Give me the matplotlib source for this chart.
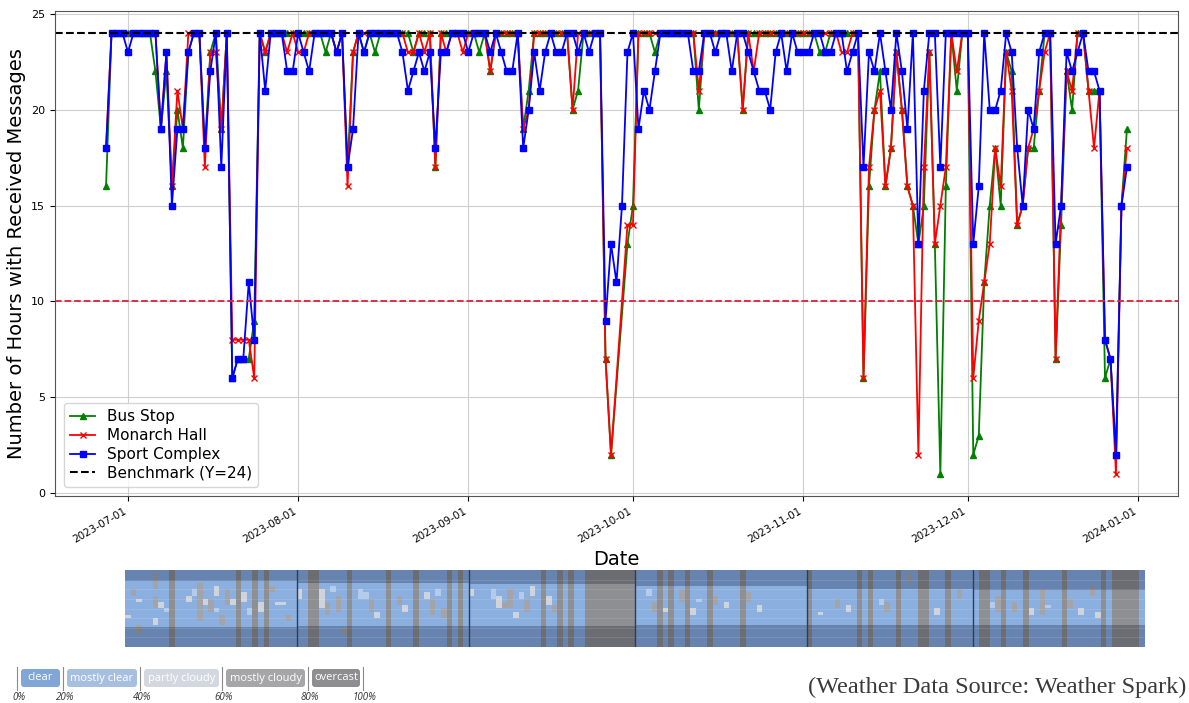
"""
Daily hours with received messages at three campus sites, Jun-Dec 2023,
with a cloud-cover strip for the same period underneath.
"""

import numpy as np
import pandas as pd
import matplotlib.pyplot as plt
import matplotlib.dates as mdates
from matplotlib.colors import to_rgb
from matplotlib.patches import FancyBboxPatch

OUT_FILE = "out.png"

# Hours per day with at least one received message, from 2023-06-27 to 2023-12-30
START_DATE = "2023-06-27"
nan = float("nan")

sport_complex = [
    18, 24, 24, 24,
    23, 24, 24, 24, 24, 24, 19, 23, 15, 19,
    19, 23, 24, 24, 18, 22, 24, 17, 24, 6,
    7, 7, 11, 8, 24, 21, 24, 24, 24, 22,
    22, 24, 23, 22, 24, 24, 24, 24, 23, 24,
    17, 19, 24, 23, 24, 24, 24, 24, 24, 24,
    23, 21, 22, 23, 22, 23, 18, 23, 23, 24,
    24, 24, 23, 24, 24, 24, 23, 24, 23, 22,
    22, 24, 18, 20, 23, 21, 23, 24, 23, 23,
    24, 24, 23, 24, 23, 24, 24, 9, 13, 11,
    15, 23, 24, 19, 21, 20, 22, 24, 24, 24,
    24, 24, 24, 22, 22, 24, 24, 23, 24, 24,
    22, 24, 24, 23, 22, 21, 21, 20, 23, 24,
    22, 24, 23, 23, 23, 24, 24, 23, 23, 24,
    24, 22, 23, 24, 17, 23, 22, 24, 22, 20,
    24, 22, 19, 24, 13, 21, 24, 24, 17, 24,
    24, 24, 24, 24, 13, 16, 24, 20, 20, 21,
    24, 23, 18, 15, 20, 19, 23, 24, 24, 13,
    15, 23, 22, 23, 24, 22, 22, 21, 8, 7,
    2, 15, 17,
]

monarch_hall = [
    18, 24, 24, 24,
    24, 24, 24, 24, 24, 24, 19, 23, 16, 21,
    19, 24, 24, 24, 17, 23, 23, 19, 24, 8,
    8, 8, 8, 6, 24, 23, 24, 24, 24, 23,
    24, 23, 23, 24, 24, 24, 24, 24, 23, 24,
    16, 23, 24, 24, 24, 24, 24, 24, 24, 24,
    24, 23, 23, 24, 23, 24, 17, 24, 23, 24,
    24, 23, 24, 24, 24, 24, 22, 24, 24, 24,
    24, 24, 19, 20, 24, 24, 24, 24, 24, 24,
    24, 20, 24, 24, 24, 24, 24, 7, 2, nan,
    nan, 14, 14, 24, 24, 24, 24, 24, 24, 24,
    24, 24, 24, 24, 21, 24, 24, 24, 24, 24,
    24, 24, 20, 24, 22, 24, 24, 24, 24, 24,
    24, 24, 24, 24, 24, 24, 24, 24, 24, 24,
    23, 23, 24, 24, 6, 17, 20, 21, 16, 18,
    23, 20, 16, 15, 2, 17, 23, 13, 15, 17,
    24, 22, 24, 24, 6, 9, 11, 13, 18, 16,
    23, 21, 14, 15, 18, 19, 21, 23, 24, 7,
    15, 22, 21, 24, 24, 21, 18, 21, 8, 7,
    1, 15, 18,
]

bus_stop = [
    16, 24, 24, 24,
    24, 24, 24, 24, 24, 22, 19, 22, 16, 20,
    18, 23, 24, 24, 18, 23, 24, 19, 24, 6,
    7, 7, 7, 9, 24, 23, 24, 24, 24, 24,
    24, 24, 24, 24, 24, 24, 23, 24, 23, 24,
    17, 23, 24, 23, 24, 23, 24, 24, 24, 24,
    24, 24, 23, 24, 24, 24, 17, 24, 24, 24,
    24, 24, 24, 24, 23, 24, 22, 24, 24, 24,
    24, 24, 19, 21, 24, 24, 24, 24, 24, 24,
    24, 20, 21, 24, 24, 24, 24, 7, 2, nan,
    nan, 13, 15, 24, 24, 24, 23, 24, 24, 24,
    24, 24, 24, 24, 20, 24, 24, 24, 24, 24,
    24, 24, 20, 24, 24, 24, 24, 24, 24, 24,
    24, 24, 24, 24, 24, 24, 23, 23, 24, 24,
    24, 24, 24, 24, 6, 16, 20, 22, 16, 18,
    23, 20, 16, 15, 13, 15, 23, 13, 1, 16,
    24, 21, 24, 24, 2, 3, 11, 15, 18, 15,
    23, 22, 14, 15, 18, 18, 21, 24, 24, 7,
    14, 22, 20, 24, 24, 21, 21, 21, 6, 7,
    2, 15, 19,
]

BENCHMARK = 24
THRESHOLD = 10

# Cloud cover strip: one column per day from 2023-07-01, rows are hours of the day
STRIP_START = "2023-07-01"
STRIP_DAYS = 184
overcast_days = [8, 20, 23, 25, 33, 34, 40, 47, 52, 58, 60, 75, 78, 80,
                 83, 84, 85, 86, 87, 88, 89, 90, 91, 96, 98, 101, 105, 111,
                 123, 132, 134, 139, 143, 144, 148, 154, 155, 158, 162, 169,
                 176, 178, 179, 180, 181, 182]
# scattered cloud: (day, first hour, hours, level 1=mostly clear 2=partly 3=mostly cloudy)
cloud_cells = [
    (0, 14, 1, 2), (1, 6, 2, 3), (2, 17, 3, 3), (2, 9, 1, 2),
    (5, 1, 5, 3), (5, 8, 4, 3), (5, 15, 2, 2), (6, 10, 2, 2), (7, 12, 1, 1),
    (11, 8, 2, 2), (12, 6, 2, 1), (13, 4, 12, 3), (14, 9, 2, 2),
    (15, 9, 4, 3), (16, 12, 1, 1), (16, 5, 3, 2), (17, 14, 3, 3),
    (18, 6, 5, 3), (19, 9, 2, 2), (21, 7, 3, 2), (22, 12, 2, 1),
    (24, 10, 3, 2), (26, 5, 2, 3), (27, 10, 1, 2), (28, 10, 1, 2), (29, 14, 2, 3),
    (31, 6, 3, 2), (35, 6, 6, 2), (36, 10, 4, 3), (37, 5, 2, 1), (38, 8, 5, 3),
    (39, 18, 2, 3), (42, 6, 3, 1), (43, 7, 2, 1), (44, 9, 4, 3), (45, 13, 2, 2),
    (49, 8, 3, 3), (50, 11, 2, 2), (54, 7, 2, 2), (55, 9, 5, 3), (56, 6, 2, 1),
    (57, 12, 3, 3),
    (62, 6, 2, 2), (66, 6, 3, 1), (67, 8, 4, 2), (68, 10, 2, 3), (69, 6, 6, 3),
    (70, 13, 2, 2), (71, 7, 2, 1), (72, 9, 4, 3), (73, 5, 3, 2), (76, 8, 3, 2),
    (77, 11, 2, 3),
    (94, 6, 2, 1), (95, 10, 3, 3), (97, 12, 1, 2), (100, 6, 4, 3), (102, 12, 2, 2),
    (103, 9, 1, 1), (106, 8, 3, 3), (108, 10, 2, 2), (112, 7, 3, 3), (114, 11, 2, 2),
    (125, 13, 1, 2), (128, 9, 3, 3), (130, 11, 2, 2), (136, 9, 2, 1), (137, 10, 3, 3),
    (141, 1, 3, 3), (146, 12, 2, 2), (150, 6, 3, 3),
    (156, 10, 2, 1), (157, 8, 5, 3), (160, 10, 3, 3), (163, 12, 2, 2), (165, 6, 8, 3),
    (166, 11, 1, 1), (170, 9, 3, 3), (172, 12, 2, 2), (174, 5, 3, 3), (175, 13, 2, 2),
]
# daylight start / end (hours from top of strip), Jul..Dec
month_sunrise = [3.6, 3.9, 4.3, 4.9, 6.0, 6.3]
month_sunset = [17.7, 17.6, 17.5, 17.2, 17.0, 17.0]

cloud_labels = ["clear", "mostly clear", "partly cloudy", "mostly cloudy", "overcast"]
cloud_colors = ["#7fa6d6", "#a7bfdf", "#d3d8e0", "#a6a6a9", "#8e8e91"]
cloud_ticks = ["0%", "20%", "40%", "60%", "80%", "100%"]

CLEAR_DAY, CLEAR_NIGHT = "#8bb0e0", "#6784b0"
OVERCAST_DAY, OVERCAST_NIGHT = "#8e8f93", "#6b6d72"
CELL_COLORS = {1: "#b4cbea", 2: "#cfd4dc", 3: "#a2a4a9"}
NIGHT_SHADE = 0.78


def plot_messages(ax):
    dates = pd.date_range(START_DATE, periods=len(sport_complex)).to_numpy()
    series = [
        (bus_stop, "green", "^", "Bus Stop"),
        (monarch_hall, "red", "x", "Monarch Hall"),
        (sport_complex, "blue", "s", "Sport Complex"),
    ]
    for values, color, marker, label in series:
        vals = np.array(values, dtype=float)
        ok = ~np.isnan(vals)
        ax.plot(dates[ok], vals[ok], color=color, marker=marker, markersize=4.5,
                linewidth=1.3, label=label)

    ax.axhline(BENCHMARK, color="black", linestyle="--", linewidth=1.5,
               label=f"Benchmark (Y={BENCHMARK})")
    ax.axhline(THRESHOLD, color="#e0203a", linestyle="--", linewidth=1.3)

    ax.xaxis.set_major_locator(mdates.MonthLocator())
    ax.xaxis.set_major_formatter(mdates.DateFormatter("%Y-%m-%d"))
    plt.setp(ax.get_xticklabels(), rotation=30, ha="right", fontsize=7.5)
    ax.tick_params(axis="y", labelsize=8)
    ax.set_xlabel("Date", fontsize=14)
    ax.set_ylabel("Number of Hours with Received Messages", fontsize=14)
    ax.grid(True, color="#cfcfcf", linewidth=0.8)
    for spine in ax.spines.values():
        spine.set_color("#555555")
    ax.legend(loc="lower left", fontsize=11, labelspacing=0.25,
              handlelength=1.6, borderaxespad=0.6)


def plot_cloud_strip(ax):
    months = pd.date_range(STRIP_START, periods=STRIP_DAYS).month.to_numpy() - 7
    hours = (np.arange(96) + 0.5) / 4
    img = np.empty((96, STRIP_DAYS, 3))
    night = np.zeros((96, STRIP_DAYS), dtype=bool)
    for d in range(STRIP_DAYS):
        m = months[d]
        light = (hours >= month_sunrise[m]) & (hours < month_sunset[m])
        night[:, d] = ~light
        if d in overcast_days:
            day_c, night_c = OVERCAST_DAY, OVERCAST_NIGHT
        else:
            day_c, night_c = CLEAR_DAY, CLEAR_NIGHT
        img[light, d] = to_rgb(day_c)
        img[~light, d] = to_rgb(night_c)

    for day, start, length, level in cloud_cells:
        rows = (hours >= start) & (hours < start + length)
        base = np.array(to_rgb(CELL_COLORS[level]))
        img[rows & ~night[:, day], day] = base
        img[rows & night[:, day], day] = base * NIGHT_SHADE

    ax.imshow(img, aspect="auto", extent=[0, STRIP_DAYS, 24, 0],
              interpolation="nearest")
    for h in range(3, 24, 3):
        ax.axhline(h, color="white", alpha=0.15, linewidth=0.5)
    for d in [31, 62, 92, 123, 153]:
        ax.axvline(d, color="#2c3d5c", linewidth=1)
    ax.set_xlim(0, STRIP_DAYS)
    ax.set_ylim(24, 0)
    ax.axis("off")


def draw_cloud_key(ax):
    edges = [17, 63, 140, 222, 308, 363]
    for i, (label, color) in enumerate(zip(cloud_labels, cloud_colors)):
        x0, x1 = edges[i] + 4, edges[i + 1] - 3
        ax.add_patch(FancyBboxPatch((x0, 669), x1 - x0, 18,
                                    boxstyle="round,pad=0,rounding_size=3",
                                    facecolor=color, edgecolor="none"))
        ax.text((x0 + x1) / 2, 678, label, color="white", fontsize=8,
                family="Open Sans", ha="center", va="center")
    for x, tick in zip(edges, cloud_ticks):
        ax.plot([x, x], [667, 690], color="#8a8a8a", linewidth=0.8)
        ax.text(x + 2, 697, tick, fontsize=7, style="italic", family="Open Sans",
                color="#333333", ha="center", va="center")

    ax.text(1186, 687, "(Weather Data Source: Weather Spark)", fontsize=17.5,
            family="Liberation Serif", color="#3a3a3a", ha="right", va="center")


def execute():
    W, H = 1189, 703
    fig = plt.figure(figsize=(W / 100, H / 100), dpi=100)

    ax = fig.add_axes([55 / W, 1 - 496 / H, (1178 - 55) / W, (496 - 11) / H])
    plot_messages(ax)

    strip_ax = fig.add_axes([125 / W, 1 - 647 / H, 1020 / W, 77 / H])
    plot_cloud_strip(strip_ax)

    key_ax = fig.add_axes([0, 0, 1, 1])
    key_ax.set_xlim(0, W)
    key_ax.set_ylim(H, 0)
    key_ax.axis("off")
    draw_cloud_key(key_ax)

    fig.savefig(OUT_FILE, dpi=100)


if __name__ == "__main__":
    execute()
